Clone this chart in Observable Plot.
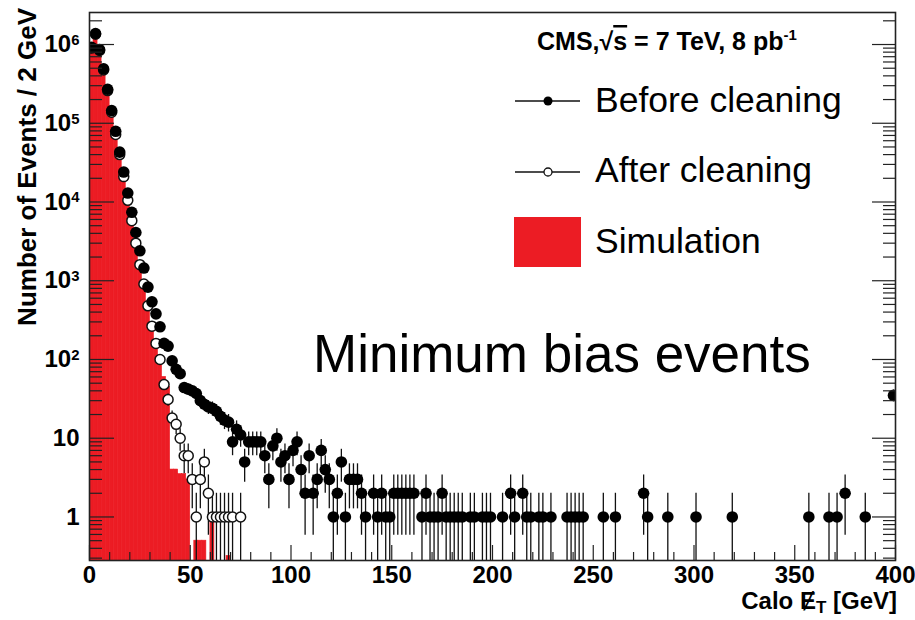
<!DOCTYPE html>
<html><head><meta charset="utf-8">
<script src="https://cdn.jsdelivr.net/npm/d3@7"></script>
<script src="https://cdn.jsdelivr.net/npm/@observablehq/plot@0.6"></script>
<style>
html,body{margin:0;padding:0;background:#fff;}
#chart svg{display:block;}
#chart g[aria-label="x-axis tick label"], #chart g[aria-label="y-axis tick label"]{font-weight:bold;}
</style></head><body><div id="chart"></div>
<script>
// ---- data: bin centres (GeV, 2 GeV bins) and event counts ----
const beforeE = [1,3,5,7,9,11,13,15,17,19,21,23,25,27,29,31,33,35,37,39,
  41,43,45,47,49,51,53,55,57,59,61,63,65,67,69,71,73,75,77,79,81,83,85,87,89,91,93,95,97,99,
  101,103,105,107,109,111,113,115,117,119,121,123,125,127,129,131,133,135,137,
  141,143,145,147,149,151,153,155,157,159,161,
  165,167,169,171,173,175,177,179,181,183,185,189,191,195,197,199,
  205,209,211,215,217,219,223,225,229,237,239,241,243,245,
  255,261,275,277,287,301,319,357,367,371,375,385,399];
const beforeN = [920000,1380000,860000,490000,270000,145000,79000,43000,24000,13000,7400,4100,2400,1450,830,540,380,260,160,148,
  96,75,66,44,42,40,37,30,27,25,24,22,19,17,16,9,13,11,5,9,9,9,9,6,3,8,10,5,6,3,
  7,9,4,2,6,2,3,7,4,3,1,2,5,1,3,3,3,2,1,
  2,1,2,1,1,2,2,2,2,2,2,
  1,2,1,1,1,2,1,1,1,1,1,1,1,1,1,1,
  1,2,1,2,1,1,1,1,1,1,1,1,1,1,
  1,1,2,1,1,1,1,1,1,1,2,1,35];
const afterE = [1,3,5,7,9,11,13,15,17,19,21,23,25,27,29,31,33,35,37,39,41,43,45,47,49,
  51,53,55,57,59,61,63,65,67,69,71,75];
const afterN = [900000,1350000,840000,475000,260000,138000,72000,40000,21000,10500,5800,3000,1600,910,480,265,160,100,48,31,18,15,10,6,6,
  3,1,3,5,2,1,1,1,1,1,1,1];
const simE = [1,3,5,7,9,11,13,15,17,19,21,23,25,27,29,31,33,35,37,39,41,43,45,47,49,53,55,57,61,69];
const simN = [950000,1200000,800000,460000,250000,135000,70000,38000,20000,10500,5500,2900,1550,850,450,250,150,95,60,45,
  4,4,3.5,3.5,3,0.5,0.5,0.5,1.05,0.32];
const xTickValues = [0,50,100,150,200,250,300,350,400];
const yTickValues = [1,10,100,1000,10000,100000,1000000];
const yTickLabels = ["1","10","10^2","10^3","10^4","10^5","10^6"];

// ---- layout ----
const W = 915, H = 620, mL = 89, mR = 20, mT = 12, mB = 60;
const innerW = W - mL - mR, innerH = H - mT - mB;
const yMin = 0.28, yMax = 2.55e6;
const red = "#ec1c24";

const withErr = (E, N) => E.map((e, i) => {
  const n = N[i], s = Math.sqrt(n);
  return {e, n, lo: n - s > 0 ? n - s : yMin / 2, hi: n + s};
});
const before = withErr(beforeE, beforeN);
const after = withErr(afterE, afterN);
const sim = simE.map((e, i) => ({x1: e - 1, x2: e + 1, n: simN[i]}));

const xMinor = d3.range(0, 401, 10).filter(d => d % 50 !== 0);
const yMinor = [];
for (let k = -1; k <= 6; k++) for (let m = 2; m <= 9; m++) {
  const v = m * Math.pow(10, k);
  if (v >= yMin && v <= yMax) yMinor.push(v);
}

const chart = Plot.plot({
  width: W, height: H,
  marginLeft: mL, marginRight: mR, marginTop: mT, marginBottom: mB,
  style: {fontFamily: "'Liberation Sans', Arial, sans-serif", background: "#fff", color: "#000"},
  x: {domain: [0, 400]},
  y: {type: "log", domain: [yMin, yMax]},
  marks: [
    Plot.rect(sim, {x1: "x1", x2: "x2", y1: () => yMin / 2, y2: "n", fill: red, stroke: red, strokeWidth: 0.6, clip: true}),
    Plot.ruleX(after, {x: "e", y1: "lo", y2: "hi", stroke: "#111", strokeWidth: 1.3, clip: true}),
    Plot.dot(after, {x: "e", y: "n", r: 5, fill: "white", stroke: "#111", strokeWidth: 1.5, clip: true}),
    Plot.ruleX(before, {x: "e", y1: "lo", y2: "hi", stroke: "#111", strokeWidth: 1.3, clip: true}),
    Plot.dot(before, {x: "e", y: "n", r: 5.8, fill: "#000", stroke: "none", clip: true}),
    Plot.tickX(xMinor, {x: d => d, insetTop: innerH - 8, stroke: "#222", strokeWidth: 1.2}),
    Plot.tickX(xTickValues, {x: d => d, insetTop: innerH - 15, stroke: "#222", strokeWidth: 1.2}),
    Plot.tickY(yMinor, {y: d => d, insetRight: innerW - 13, stroke: "#222", strokeWidth: 1.2}),
    Plot.tickY(yTickValues, {y: d => d, insetRight: innerW - 25, stroke: "#222", strokeWidth: 1.2}),
    Plot.tickY(yMinor, {y: d => d, insetLeft: innerW - 12, stroke: "#222", strokeWidth: 1.2}),
    Plot.tickY(yTickValues, {y: d => d, insetLeft: innerW - 23, stroke: "#222", strokeWidth: 1.2}),
    Plot.frame({stroke: "#222", strokeWidth: 1.6}),
    Plot.axisX({ticks: xTickValues, tickSize: 0, tickPadding: 5, fontSize: 24, fontWeight: "bold", label: null, tickFormat: d => String(d)}),
    Plot.axisY({ticks: yTickValues, tickSize: 0, tickPadding: 10, fontSize: 24, fontWeight: "bold", label: null,
      tickFormat: d => yTickLabels[yTickValues.indexOf(d)]})
  ]
});
document.getElementById("chart").appendChild(chart);

const svg = d3.select(chart);
// superscripts on y tick labels
svg.selectAll('g[aria-label="y-axis tick label"] text').each(function () {
  const t = d3.select(this).text();
  if (t.includes("^")) {
    const [b, p] = t.split("^");
    const s = d3.select(this).text(null);
    s.append("tspan").text(b);
    s.append("tspan").attr("dy", "-0.5em").attr("font-size", "0.62em").text(p);
  }
});

const font = "'Liberation Sans', Arial, sans-serif";
// y-axis title
svg.append("text").attr("transform", "translate(36,8) rotate(-90)").attr("text-anchor", "end")
  .attr("font-family", font).attr("font-weight", "bold").attr("font-size", 26)
  .text("Number of Events / 2 GeV");
// x-axis title (missing transverse energy: slashed E)
const xt = svg.append("text").attr("x", 897).attr("y", 609).attr("text-anchor", "end")
  .attr("font-family", font).attr("font-weight", "bold").attr("font-size", 24);
xt.append("tspan").text("Calo \u0246");
xt.append("tspan").attr("dy", 4).attr("font-size", 17).text("T");
xt.append("tspan").attr("dy", -4).text(" [GeV]");

// legend
const lg = svg.append("g").attr("font-family", font).attr("text-anchor", "start");
const hd = lg.append("text").attr("x", 537).attr("y", 50).attr("font-weight", "bold").attr("font-size", 25);
hd.append("tspan").text("CMS,\u221A");
hd.append("tspan").style("text-decoration", "overline").text("s");
hd.append("tspan").text(" = 7 TeV, 8 pb");
hd.append("tspan").attr("dy", -10).attr("font-size", 15).text("-1");

lg.append("line").attr("x1", 515).attr("x2", 580).attr("y1", 101).attr("y2", 101).attr("stroke", "#111").attr("stroke-width", 1.3);
lg.append("circle").attr("cx", 548).attr("cy", 101).attr("r", 4.5).attr("fill", "#000");
lg.append("text").attr("x", 595).attr("y", 112).attr("font-size", 35.5).text("Before cleaning");

lg.append("line").attr("x1", 515).attr("x2", 580).attr("y1", 172).attr("y2", 172).attr("stroke", "#111").attr("stroke-width", 1.3);
lg.append("circle").attr("cx", 548).attr("cy", 172).attr("r", 4).attr("fill", "#fff").attr("stroke", "#111").attr("stroke-width", 1.3);
lg.append("text").attr("x", 595).attr("y", 182).attr("font-size", 35.5).text("After cleaning");

lg.append("rect").attr("x", 514).attr("y", 217).attr("width", 67).attr("height", 50).attr("fill", red);
lg.append("text").attr("x", 595).attr("y", 253).attr("font-size", 35.5).text("Simulation");

svg.append("text").attr("x", 313).attr("y", 372).attr("text-anchor", "start").attr("font-family", font).attr("font-size", 53)
  .text("Minimum bias events");
</script>
</body></html>
